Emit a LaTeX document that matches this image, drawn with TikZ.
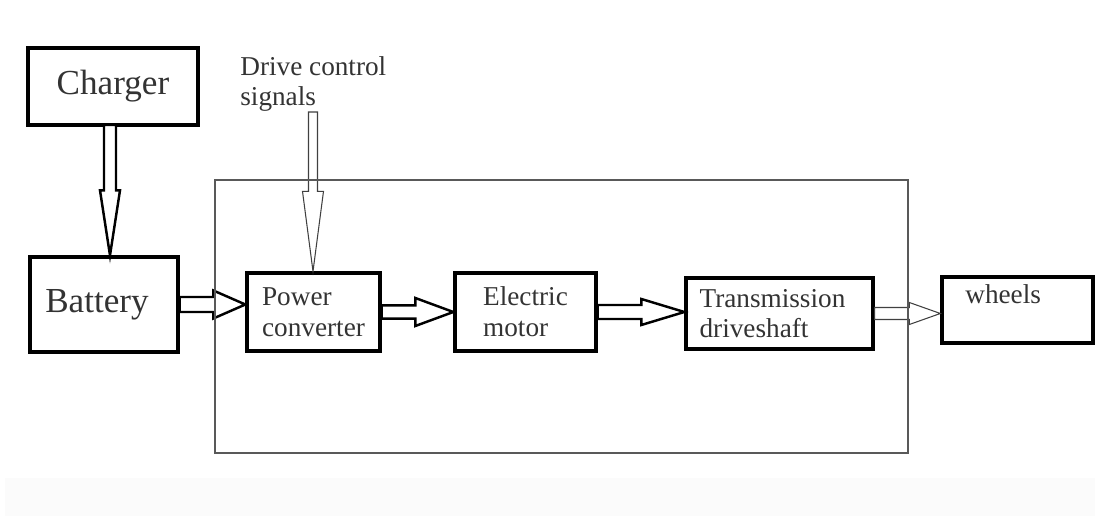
\documentclass[tikz,border=0pt]{standalone}
\usepackage{fontspec}
\setmainfont{Liberation Serif}
\usetikzlibrary{calc}
\tikzset{
  blk/.style={draw=black, line width=1.9pt, inner sep=0pt, align=left, text=black!80},
  bigtxt/.style={font=\fontsize{20}{24}\selectfont},
  medtxt/.style={font=\fontsize{15.5}{17.5}\selectfont},
  arr/.style={draw=black, line width=1.4pt, fill=white, line join=miter},
  thinarr/.style={draw=black!75, line width=0.6pt, fill=white, line join=miter},
  frame/.style={draw=black!65, line width=0.8pt},
}
% horizontal block arrow: style, start, end, shaft half width, head half width, head length (px)
\newcommand\harrow[6]{%
  \path[#1] ($(#2)+(0,-#4)$) -- ($(#3 |- #2)+(-#6,-#4)$) -- ($(#3 |- #2)+(-#6,-#5)$)
    -- (#3 |- #2) -- ($(#3 |- #2)+(-#6,#5)$) -- ($(#3 |- #2)+(-#6,#4)$) -- ($(#2)+(0,#4)$) -- cycle;}
% vertical (downward) block arrow
\newcommand\varrow[6]{%
  \path[#1] ($(#2)+(-#4,0)$) -- ($(#2 |- #3)+(-#4,-#6)$) -- ($(#2 |- #3)+(-#5,-#6)$)
    -- (#2 |- #3) -- ($(#2 |- #3)+(#5,-#6)$) -- ($(#2 |- #3)+(#4,-#6)$) -- ($(#2)+(#4,0)$) -- cycle;}
\begin{document}
\begin{tikzpicture}[x=0.02cm, y=-0.02cm]
\useasboundingbox (0,0) rectangle (1100,516);
\fill[black!1.5] (5,478) rectangle (1095,516);

\node[blk, bigtxt, minimum width=3.4cm, minimum height=1.54cm] (charger) at (113,86.5) {Charger};
\node[blk, bigtxt, minimum width=2.96cm, minimum height=1.9cm] (battery) at (104,304.5) {Battery\hspace*{8pt}};
\node[blk, medtxt, minimum width=2.66cm, minimum height=1.56cm] (power) at (313.5,312) {Power\\converter};
\node[blk, medtxt, minimum width=2.82cm, minimum height=1.56cm] (motor) at (525.5,312) {Electric\\motor};
\node[blk, medtxt, minimum width=3.74cm, minimum height=1.42cm] (trans) at (779.5,313.5) {Transmission\hspace*{8pt}\\driveshaft};
\node[blk, minimum width=3.02cm, minimum height=1.32cm] (wheels) at (1017.5,310) {};
\node[medtxt, text=black!80, anchor=north west, inner sep=0pt] (wtxt) at (965,284) {wheels};

\node[medtxt, text=black!80, anchor=north west, inner sep=0pt, align=left] (dcs) at (240,56) {Drive control\\signals};
\coordinate (dcsend) at (313,112);
\coordinate (chgout) at (110,125);

\varrow{arr}{chgout}{battery.north}{6}{10}{65}
\varrow{thinarr}{dcsend}{power.north}{4.5}{10.5}{80}
\harrow{arr}{battery.east}{power.west}{7.5}{14}{32}
\harrow{arr}{power.east}{motor.west}{6.7}{14}{38}
\harrow{arr}{motor.east}{trans.west}{7}{13}{43}
\harrow{thinarr}{trans.east}{wheels.west}{6}{11}{31}

\draw[frame] (215,180) rectangle (908,453);
\end{tikzpicture}
\end{document}
